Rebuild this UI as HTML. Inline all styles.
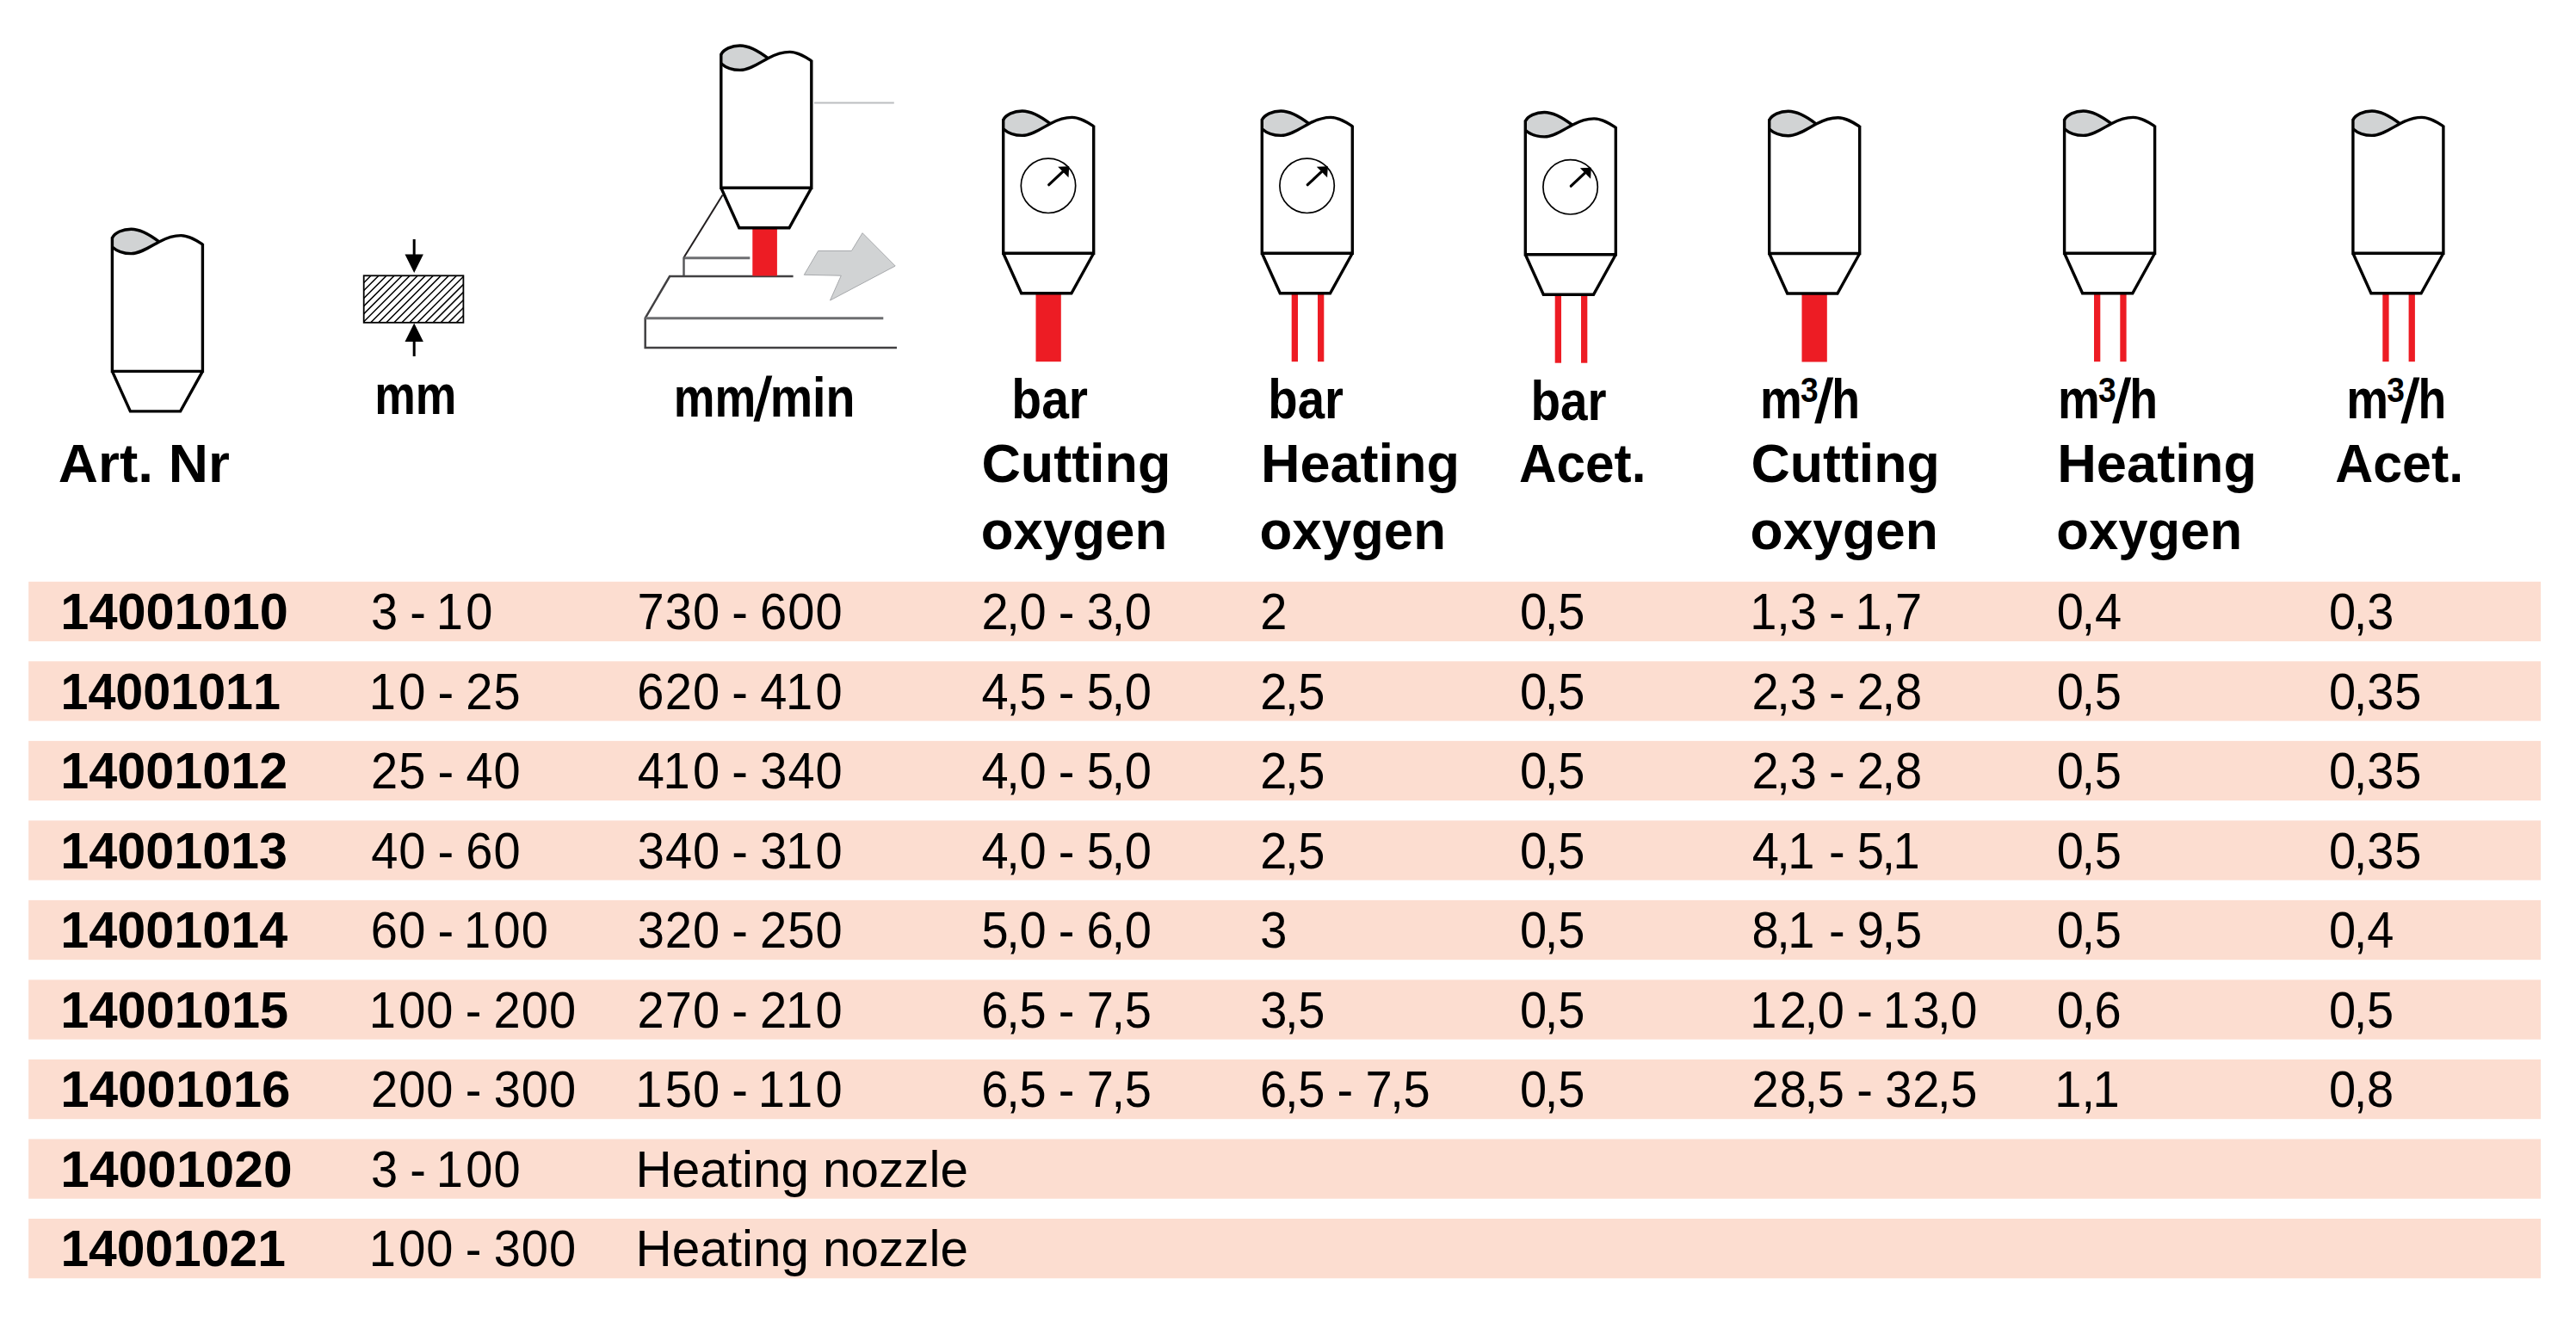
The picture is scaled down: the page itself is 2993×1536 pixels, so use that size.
<!DOCTYPE html>
<html><head><meta charset="utf-8">
<style>
html,body{margin:0;padding:0;background:#fff;width:2993px;height:1536px;overflow:hidden}
svg{display:block}
text{font-family:"Liberation Sans",sans-serif;font-kerning:none;fill:#000}
</style></head><body>
<svg width="2993" height="1536" viewBox="0 0 2993 1536">
<rect x="33.2" y="675.80" width="2918.90" height="69.3" fill="#FCDDD0"/>
<rect x="33.2" y="768.32" width="2918.90" height="69.3" fill="#FCDDD0"/>
<rect x="33.2" y="860.84" width="2918.90" height="69.3" fill="#FCDDD0"/>
<rect x="33.2" y="953.36" width="2918.90" height="69.3" fill="#FCDDD0"/>
<rect x="33.2" y="1045.88" width="2918.90" height="69.3" fill="#FCDDD0"/>
<rect x="33.2" y="1138.40" width="2918.90" height="69.3" fill="#FCDDD0"/>
<rect x="33.2" y="1230.92" width="2918.90" height="69.3" fill="#FCDDD0"/>
<rect x="33.2" y="1323.44" width="2918.90" height="69.3" fill="#FCDDD0"/>
<rect x="33.2" y="1415.96" width="2918.90" height="69.3" fill="#FCDDD0"/>
<g transform="translate(130.4,431.4)">
<path d="M0,-155 C3,-161 12,-165.2 22,-165.2 C34,-165.2 46,-157 54.5,-150.5 C45,-145.5 33,-136.8 22,-136.8 C12,-136.8 5,-140 0,-144.5 Z" fill="#D1D3D4"/>
<path d="M0,-155 C3,-161 12,-165.2 22,-165.2 C34,-165.2 46,-157 54.5,-150.5" stroke="#000" fill="none" stroke-width="3.4" stroke-linejoin="miter"/>
<path d="M0,-144.5 C5,-140 12,-136.8 22,-136.8 C33,-136.8 45,-145.5 54.5,-150.5 C63,-155 71,-157.8 79.8,-157.8 C89,-157.8 98,-152 105,-147.5" stroke="#000" fill="none" stroke-width="3.4" stroke-linejoin="miter"/>
<path d="M0,-156 V0 H105 V-148.5 M0,0 L21,46.5 H79.2 L105,0" stroke="#000" fill="none" stroke-width="3.4" stroke-linejoin="miter"/>
</g>
<g fill="none">
<path d="M945.9,119.5 H1038.8" stroke="#BCBEC0" stroke-width="2"/>
<path d="M839.6,226.5 L794.5,299.3" stroke="#231F20" stroke-width="2"/>
<path d="M794.5,299.8 H871.3" stroke="#6D6E71" stroke-width="3"/>
<path d="M794.5,299 V320.5" stroke="#58595B" stroke-width="2.5"/>
<path d="M921.6,321.1 H778.1 L749.7,369.5 V404 H1042" stroke="#414042" stroke-width="2.5" stroke-linejoin="miter"/>
<path d="M749.7,369.7 H1026.3" stroke="#6D6E71" stroke-width="3"/>
</g>
<path d="M934.3,319.3 L950.6,291.5 L989.4,291.5 L1002.1,270.7 L1040.2,309 L964.5,349 L977.3,320.2 Z" fill="#D1D3D4" stroke="#A7A9AC" stroke-width="1"/>
<rect x="874.3" y="264" width="28.6" height="56.5" fill="#ED1C24"/>
<g transform="translate(837.8,218.2)">
<path d="M0,-155 C3,-161 12,-165.2 22,-165.2 C34,-165.2 46,-157 54.5,-150.5 C45,-145.5 33,-136.8 22,-136.8 C12,-136.8 5,-140 0,-144.5 Z" fill="#D1D3D4"/>
<path d="M0,-155 C3,-161 12,-165.2 22,-165.2 C34,-165.2 46,-157 54.5,-150.5" stroke="#000" fill="none" stroke-width="3.4" stroke-linejoin="miter"/>
<path d="M0,-144.5 C5,-140 12,-136.8 22,-136.8 C33,-136.8 45,-145.5 54.5,-150.5 C63,-155 71,-157.8 79.8,-157.8 C89,-157.8 98,-152 105,-147.5" stroke="#000" fill="none" stroke-width="3.4" stroke-linejoin="miter"/>
<path d="M0,-156 V0 H105 V-148.5 M0,0 L21,46.5 H79.2 L105,0" stroke="#000" fill="none" stroke-width="3.4" stroke-linejoin="miter"/>
</g>
<g transform="translate(1165.7,294.2)">
<path d="M0,-155 C3,-161 12,-165.2 22,-165.2 C34,-165.2 46,-157 54.5,-150.5 C45,-145.5 33,-136.8 22,-136.8 C12,-136.8 5,-140 0,-144.5 Z" fill="#D1D3D4"/>
<rect x="37.8" y="46" width="29.3" height="80" fill="#ED1C24"/>
<path d="M0,-155 C3,-161 12,-165.2 22,-165.2 C34,-165.2 46,-157 54.5,-150.5" stroke="#000" fill="none" stroke-width="3.4" stroke-linejoin="miter"/>
<path d="M0,-144.5 C5,-140 12,-136.8 22,-136.8 C33,-136.8 45,-145.5 54.5,-150.5 C63,-155 71,-157.8 79.8,-157.8 C89,-157.8 98,-152 105,-147.5" stroke="#000" fill="none" stroke-width="3.4" stroke-linejoin="miter"/>
<path d="M0,-156 V0 H105 V-148.5 M0,0 L21,46.5 H79.2 L105,0" stroke="#000" fill="none" stroke-width="3.4" stroke-linejoin="miter"/>
<circle cx="52.3" cy="-78.4" r="31.7" stroke="#000" fill="none" stroke-width="1.7"/>
<path d="M53,-79.5 L69,-94.5" stroke="#000" stroke-width="3.2" stroke-linecap="round"/>
<path d="M63.5,-100.5 L76.5,-101 L75.8,-88 Z" fill="#000"/>
</g>
<g transform="translate(1466.3,294.2)">
<path d="M0,-155 C3,-161 12,-165.2 22,-165.2 C34,-165.2 46,-157 54.5,-150.5 C45,-145.5 33,-136.8 22,-136.8 C12,-136.8 5,-140 0,-144.5 Z" fill="#D1D3D4"/>
<rect x="34.4" y="46" width="7.3" height="80" fill="#ED1C24"/>
<rect x="64.7" y="46" width="7.3" height="80" fill="#ED1C24"/>
<path d="M0,-155 C3,-161 12,-165.2 22,-165.2 C34,-165.2 46,-157 54.5,-150.5" stroke="#000" fill="none" stroke-width="3.4" stroke-linejoin="miter"/>
<path d="M0,-144.5 C5,-140 12,-136.8 22,-136.8 C33,-136.8 45,-145.5 54.5,-150.5 C63,-155 71,-157.8 79.8,-157.8 C89,-157.8 98,-152 105,-147.5" stroke="#000" fill="none" stroke-width="3.4" stroke-linejoin="miter"/>
<path d="M0,-156 V0 H105 V-148.5 M0,0 L21,46.5 H79.2 L105,0" stroke="#000" fill="none" stroke-width="3.4" stroke-linejoin="miter"/>
<circle cx="52.3" cy="-78.4" r="31.7" stroke="#000" fill="none" stroke-width="1.7"/>
<path d="M53,-79.5 L69,-94.5" stroke="#000" stroke-width="3.2" stroke-linecap="round"/>
<path d="M63.5,-100.5 L76.5,-101 L75.8,-88 Z" fill="#000"/>
</g>
<g transform="translate(1772.3,295.7)">
<path d="M0,-155 C3,-161 12,-165.2 22,-165.2 C34,-165.2 46,-157 54.5,-150.5 C45,-145.5 33,-136.8 22,-136.8 C12,-136.8 5,-140 0,-144.5 Z" fill="#D1D3D4"/>
<rect x="34.4" y="46" width="7.3" height="80" fill="#ED1C24"/>
<rect x="64.7" y="46" width="7.3" height="80" fill="#ED1C24"/>
<path d="M0,-155 C3,-161 12,-165.2 22,-165.2 C34,-165.2 46,-157 54.5,-150.5" stroke="#000" fill="none" stroke-width="3.4" stroke-linejoin="miter"/>
<path d="M0,-144.5 C5,-140 12,-136.8 22,-136.8 C33,-136.8 45,-145.5 54.5,-150.5 C63,-155 71,-157.8 79.8,-157.8 C89,-157.8 98,-152 105,-147.5" stroke="#000" fill="none" stroke-width="3.4" stroke-linejoin="miter"/>
<path d="M0,-156 V0 H105 V-148.5 M0,0 L21,46.5 H79.2 L105,0" stroke="#000" fill="none" stroke-width="3.4" stroke-linejoin="miter"/>
<circle cx="52.3" cy="-78.4" r="31.7" stroke="#000" fill="none" stroke-width="1.7"/>
<path d="M53,-79.5 L69,-94.5" stroke="#000" stroke-width="3.2" stroke-linecap="round"/>
<path d="M63.5,-100.5 L76.5,-101 L75.8,-88 Z" fill="#000"/>
</g>
<g transform="translate(2055.7,294.5)">
<path d="M0,-155 C3,-161 12,-165.2 22,-165.2 C34,-165.2 46,-157 54.5,-150.5 C45,-145.5 33,-136.8 22,-136.8 C12,-136.8 5,-140 0,-144.5 Z" fill="#D1D3D4"/>
<rect x="37.8" y="46" width="29.3" height="80" fill="#ED1C24"/>
<path d="M0,-155 C3,-161 12,-165.2 22,-165.2 C34,-165.2 46,-157 54.5,-150.5" stroke="#000" fill="none" stroke-width="3.4" stroke-linejoin="miter"/>
<path d="M0,-144.5 C5,-140 12,-136.8 22,-136.8 C33,-136.8 45,-145.5 54.5,-150.5 C63,-155 71,-157.8 79.8,-157.8 C89,-157.8 98,-152 105,-147.5" stroke="#000" fill="none" stroke-width="3.4" stroke-linejoin="miter"/>
<path d="M0,-156 V0 H105 V-148.5 M0,0 L21,46.5 H79.2 L105,0" stroke="#000" fill="none" stroke-width="3.4" stroke-linejoin="miter"/>
</g>
<g transform="translate(2398.6,294.2)">
<path d="M0,-155 C3,-161 12,-165.2 22,-165.2 C34,-165.2 46,-157 54.5,-150.5 C45,-145.5 33,-136.8 22,-136.8 C12,-136.8 5,-140 0,-144.5 Z" fill="#D1D3D4"/>
<rect x="34.4" y="46" width="7.3" height="80" fill="#ED1C24"/>
<rect x="64.7" y="46" width="7.3" height="80" fill="#ED1C24"/>
<path d="M0,-155 C3,-161 12,-165.2 22,-165.2 C34,-165.2 46,-157 54.5,-150.5" stroke="#000" fill="none" stroke-width="3.4" stroke-linejoin="miter"/>
<path d="M0,-144.5 C5,-140 12,-136.8 22,-136.8 C33,-136.8 45,-145.5 54.5,-150.5 C63,-155 71,-157.8 79.8,-157.8 C89,-157.8 98,-152 105,-147.5" stroke="#000" fill="none" stroke-width="3.4" stroke-linejoin="miter"/>
<path d="M0,-156 V0 H105 V-148.5 M0,0 L21,46.5 H79.2 L105,0" stroke="#000" fill="none" stroke-width="3.4" stroke-linejoin="miter"/>
</g>
<g transform="translate(2733.9,294.2)">
<path d="M0,-155 C3,-161 12,-165.2 22,-165.2 C34,-165.2 46,-157 54.5,-150.5 C45,-145.5 33,-136.8 22,-136.8 C12,-136.8 5,-140 0,-144.5 Z" fill="#D1D3D4"/>
<rect x="34.4" y="46" width="7.3" height="80" fill="#ED1C24"/>
<rect x="64.7" y="46" width="7.3" height="80" fill="#ED1C24"/>
<path d="M0,-155 C3,-161 12,-165.2 22,-165.2 C34,-165.2 46,-157 54.5,-150.5" stroke="#000" fill="none" stroke-width="3.4" stroke-linejoin="miter"/>
<path d="M0,-144.5 C5,-140 12,-136.8 22,-136.8 C33,-136.8 45,-145.5 54.5,-150.5 C63,-155 71,-157.8 79.8,-157.8 C89,-157.8 98,-152 105,-147.5" stroke="#000" fill="none" stroke-width="3.4" stroke-linejoin="miter"/>
<path d="M0,-156 V0 H105 V-148.5 M0,0 L21,46.5 H79.2 L105,0" stroke="#000" fill="none" stroke-width="3.4" stroke-linejoin="miter"/>
</g>
<defs><clipPath id="hc"><rect x="422.7" y="320.3" width="115.7" height="54.5"/></clipPath></defs>
<path clip-path="url(#hc)" d="M283.90,376.8 L342.40,318.3 M292.95,376.8 L351.45,318.3 M302.00,376.8 L360.50,318.3 M311.05,376.8 L369.55,318.3 M320.10,376.8 L378.60,318.3 M329.15,376.8 L387.65,318.3 M338.20,376.8 L396.70,318.3 M347.25,376.8 L405.75,318.3 M356.30,376.8 L414.80,318.3 M365.35,376.8 L423.85,318.3 M374.40,376.8 L432.90,318.3 M383.45,376.8 L441.95,318.3 M392.50,376.8 L451.00,318.3 M401.55,376.8 L460.05,318.3 M410.60,376.8 L469.10,318.3 M419.65,376.8 L478.15,318.3 M428.70,376.8 L487.20,318.3 M437.75,376.8 L496.25,318.3 M446.80,376.8 L505.30,318.3 M455.85,376.8 L514.35,318.3 M464.90,376.8 L523.40,318.3 M473.95,376.8 L532.45,318.3 M483.00,376.8 L541.50,318.3 M492.05,376.8 L550.55,318.3 M501.10,376.8 L559.60,318.3 M510.15,376.8 L568.65,318.3 M519.20,376.8 L577.70,318.3 M528.25,376.8 L586.75,318.3 M537.30,376.8 L595.80,318.3 M546.35,376.8 L604.85,318.3" stroke="#000" stroke-width="1.5"/>
<rect x="422.7" y="320.3" width="115.7" height="54.5" fill="none" stroke="#000" stroke-width="1.8"/>
<path d="M481.2,278 V300 M481.2,396 V414" stroke="#000" stroke-width="3"/>
<path d="M470.5,295.4 L491.9,295.4 L481.2,317 Z M470.5,397 L491.9,397 L481.2,375.5 Z" fill="#000"/>
<path d="M890.5,436.6 L897.3,436.6 L882.3,489.7 L875.5,489.7 Z" fill="#000"/>
<path d="M2123.2,438.5 L2130.2,438.5 L2115.7,492 L2108.2,492 Z" fill="#000"/>
<path d="M2469.2,438.5 L2476.2,438.5 L2461.7,492 L2454.2,492 Z" fill="#000"/>
<path d="M2804.4,438.5 L2811.4,438.5 L2796.9,492 L2789.4,492 Z" fill="#000"/>
<text transform="scale(0.95,1)" x="453.82 494.05 501.39 528.37 533.52 569.86" y="731.00" font-size="59.0" font-weight="400">3 - 10</text>
<text transform="scale(0.95,1)" x="779.46 813.56 847.28 887.68 895.02 922.00 929.39 963.49 997.38" y="731.00" font-size="59.0" font-weight="400">730 - 600</text>
<text transform="scale(0.95,1)" x="1200.44 1230.75 1246.86 1287.26 1294.60 1321.58 1329.35 1359.49 1375.59" y="731.00" font-size="59.0" font-weight="400">2,0 - 3,0</text>
<text transform="scale(0.95,1)" x="1541.23" y="731.00" font-size="59.0" font-weight="400">2</text>
<text transform="scale(0.95,1)" x="1859.01 1889.33 1905.49" y="731.00" font-size="59.0" font-weight="400">0,5</text>
<text transform="scale(0.95,1)" x="2140.21 2172.96 2189.24 2229.47 2236.81 2263.79 2268.94 2301.70 2317.78" y="731.00" font-size="59.0" font-weight="400">1,3 - 1,7</text>
<text transform="scale(0.95,1)" x="2515.44 2545.75 2562.04" y="731.00" font-size="59.0" font-weight="400">0,4</text>
<text transform="scale(0.95,1)" x="2848.38 2878.70 2894.98" y="731.00" font-size="59.0" font-weight="400">0,3</text>
<text transform="scale(0.95,1)" x="451.21 487.54 527.95 535.28 562.26 569.86 603.81" y="823.52" font-size="59.0" font-weight="400">10 - 25</text>
<text transform="scale(0.95,1)" x="779.29 813.38 847.28 887.68 895.02 922.00 929.78 961.05 997.38" y="823.52" font-size="59.0" font-weight="400">620 - 410</text>
<text transform="scale(0.95,1)" x="1200.62 1230.75 1246.91 1287.26 1294.60 1321.58 1329.23 1359.49 1375.59" y="823.52" font-size="59.0" font-weight="400">4,5 - 5,0</text>
<text transform="scale(0.95,1)" x="1541.23 1571.54 1587.70" y="823.52" font-size="59.0" font-weight="400">2,5</text>
<text transform="scale(0.95,1)" x="1859.01 1889.33 1905.49" y="823.52" font-size="59.0" font-weight="400">0,5</text>
<text transform="scale(0.95,1)" x="2142.65 2172.96 2189.24 2229.47 2236.81 2263.79 2271.38 2301.70 2317.80" y="823.52" font-size="59.0" font-weight="400">2,3 - 2,8</text>
<text transform="scale(0.95,1)" x="2515.44 2545.75 2561.91" y="823.52" font-size="59.0" font-weight="400">0,5</text>
<text transform="scale(0.95,1)" x="2848.38 2878.70 2894.98 2928.76" y="823.52" font-size="59.0" font-weight="400">0,35</text>
<text transform="scale(0.95,1)" x="453.65 487.60 527.95 535.28 562.26 570.04 603.75" y="916.04" font-size="59.0" font-weight="400">25 - 40</text>
<text transform="scale(0.95,1)" x="779.68 810.94 847.28 887.68 895.02 922.00 929.77 963.68 997.38" y="916.04" font-size="59.0" font-weight="400">410 - 340</text>
<text transform="scale(0.95,1)" x="1200.62 1230.75 1246.86 1287.26 1294.60 1321.58 1329.23 1359.49 1375.59" y="916.04" font-size="59.0" font-weight="400">4,0 - 5,0</text>
<text transform="scale(0.95,1)" x="1541.23 1571.54 1587.70" y="916.04" font-size="59.0" font-weight="400">2,5</text>
<text transform="scale(0.95,1)" x="1859.01 1889.33 1905.49" y="916.04" font-size="59.0" font-weight="400">0,5</text>
<text transform="scale(0.95,1)" x="2142.65 2172.96 2189.24 2229.47 2236.81 2263.79 2271.38 2301.70 2317.80" y="916.04" font-size="59.0" font-weight="400">2,3 - 2,8</text>
<text transform="scale(0.95,1)" x="2515.44 2545.75 2561.91" y="916.04" font-size="59.0" font-weight="400">0,5</text>
<text transform="scale(0.95,1)" x="2848.38 2878.70 2894.98 2928.76" y="916.04" font-size="59.0" font-weight="400">0,35</text>
<text transform="scale(0.95,1)" x="453.83 487.54 527.95 535.28 562.26 569.66 603.75" y="1008.56" font-size="59.0" font-weight="400">40 - 60</text>
<text transform="scale(0.95,1)" x="779.66 813.57 847.28 887.68 895.02 922.00 929.77 961.05 997.38" y="1008.56" font-size="59.0" font-weight="400">340 - 310</text>
<text transform="scale(0.95,1)" x="1200.62 1230.75 1246.86 1287.26 1294.60 1321.58 1329.23 1359.49 1375.59" y="1008.56" font-size="59.0" font-weight="400">4,0 - 5,0</text>
<text transform="scale(0.95,1)" x="1541.23 1571.54 1587.70" y="1008.56" font-size="59.0" font-weight="400">2,5</text>
<text transform="scale(0.95,1)" x="1859.01 1889.33 1905.49" y="1008.56" font-size="59.0" font-weight="400">0,5</text>
<text transform="scale(0.95,1)" x="2142.83 2172.96 2186.63 2229.47 2236.81 2263.79 2271.44 2301.70 2315.37" y="1008.56" font-size="59.0" font-weight="400">4,1 - 5,1</text>
<text transform="scale(0.95,1)" x="2515.44 2545.75 2561.91" y="1008.56" font-size="59.0" font-weight="400">0,5</text>
<text transform="scale(0.95,1)" x="2848.38 2878.70 2894.98 2928.76" y="1008.56" font-size="59.0" font-weight="400">0,35</text>
<text transform="scale(0.95,1)" x="453.44 487.54 527.95 535.28 562.26 567.42 603.75 637.65" y="1101.08" font-size="59.0" font-weight="400">60 - 100</text>
<text transform="scale(0.95,1)" x="779.66 813.38 847.28 887.68 895.02 922.00 929.59 963.55 997.38" y="1101.08" font-size="59.0" font-weight="400">320 - 250</text>
<text transform="scale(0.95,1)" x="1200.49 1230.75 1246.86 1287.26 1294.60 1321.58 1328.97 1359.49 1375.59" y="1101.08" font-size="59.0" font-weight="400">5,0 - 6,0</text>
<text transform="scale(0.95,1)" x="1541.40" y="1101.08" font-size="59.0" font-weight="400">3</text>
<text transform="scale(0.95,1)" x="1859.01 1889.33 1905.49" y="1101.08" font-size="59.0" font-weight="400">0,5</text>
<text transform="scale(0.95,1)" x="2142.65 2172.96 2186.63 2229.47 2236.81 2263.79 2271.40 2301.70 2317.86" y="1101.08" font-size="59.0" font-weight="400">8,1 - 9,5</text>
<text transform="scale(0.95,1)" x="2515.44 2545.75 2561.91" y="1101.08" font-size="59.0" font-weight="400">0,5</text>
<text transform="scale(0.95,1)" x="2848.38 2878.70 2894.99" y="1101.08" font-size="59.0" font-weight="400">0,4</text>
<text transform="scale(0.95,1)" x="451.21 487.54 521.44 561.84 569.18 596.16 603.75 637.65 671.54" y="1193.60" font-size="59.0" font-weight="400">100 - 200</text>
<text transform="scale(0.95,1)" x="779.49 813.35 847.28 887.68 895.02 922.00 929.59 961.05 997.38" y="1193.60" font-size="59.0" font-weight="400">270 - 210</text>
<text transform="scale(0.95,1)" x="1200.23 1230.75 1246.91 1287.26 1294.60 1321.58 1329.14 1359.49 1375.65" y="1193.60" font-size="59.0" font-weight="400">6,5 - 7,5</text>
<text transform="scale(0.95,1)" x="1541.40 1571.54 1587.70" y="1193.60" font-size="59.0" font-weight="400">3,5</text>
<text transform="scale(0.95,1)" x="1859.01 1889.33 1905.49" y="1193.60" font-size="59.0" font-weight="400">0,5</text>
<text transform="scale(0.95,1)" x="2140.21 2176.54 2206.86 2222.96 2263.37 2270.70 2297.68 2302.84 2339.35 2369.49 2385.59" y="1193.60" font-size="59.0" font-weight="400">12,0 - 13,0</text>
<text transform="scale(0.95,1)" x="2515.44 2545.75 2561.66" y="1193.60" font-size="59.0" font-weight="400">0,6</text>
<text transform="scale(0.95,1)" x="2848.38 2878.70 2894.86" y="1193.60" font-size="59.0" font-weight="400">0,5</text>
<text transform="scale(0.95,1)" x="453.65 487.54 521.44 561.84 569.18 596.16 603.92 637.65 671.54" y="1286.12" font-size="59.0" font-weight="400">200 - 300</text>
<text transform="scale(0.95,1)" x="777.05 813.44 847.28 887.68 895.02 922.00 927.16 961.05 997.38" y="1286.12" font-size="59.0" font-weight="400">150 - 110</text>
<text transform="scale(0.95,1)" x="1200.23 1230.75 1246.91 1287.26 1294.60 1321.58 1329.14 1359.49 1375.65" y="1286.12" font-size="59.0" font-weight="400">6,5 - 7,5</text>
<text transform="scale(0.95,1)" x="1541.02 1571.54 1587.70 1628.05 1635.39 1662.37 1669.93 1700.28 1716.44" y="1286.12" font-size="59.0" font-weight="400">6,5 - 7,5</text>
<text transform="scale(0.95,1)" x="1859.01 1889.33 1905.49" y="1286.12" font-size="59.0" font-weight="400">0,5</text>
<text transform="scale(0.95,1)" x="2142.65 2176.54 2206.86 2223.02 2263.37 2270.70 2297.68 2305.45 2339.17 2369.49 2385.65" y="1286.12" font-size="59.0" font-weight="400">28,5 - 32,5</text>
<text transform="scale(0.95,1)" x="2513.00 2545.75 2559.42" y="1286.12" font-size="59.0" font-weight="400">1,1</text>
<text transform="scale(0.95,1)" x="2848.38 2878.70 2894.80" y="1286.12" font-size="59.0" font-weight="400">0,8</text>
<text transform="scale(0.95,1)" x="453.82 494.05 501.39 528.37 533.52 569.86 603.75" y="1378.64" font-size="59.0" font-weight="400">3 - 100</text>
<text transform="scale(0.95,1)" x="451.21 487.54 521.44 561.84 569.18 596.16 603.92 637.65 671.54" y="1471.16" font-size="59.0" font-weight="400">100 - 300</text>
<text x="67.81" y="560.40" font-size="63.4" font-weight="700" textLength="199.06" lengthAdjust="spacingAndGlyphs">Art. Nr</text>
<text x="1140.42" y="560.10" font-size="63.4" font-weight="700" textLength="219.99" lengthAdjust="spacingAndGlyphs">Cutting</text>
<text x="1139.79" y="637.90" font-size="63.4" font-weight="700" textLength="216.35" lengthAdjust="spacingAndGlyphs">oxygen</text>
<text x="1464.88" y="560.10" font-size="63.4" font-weight="700" textLength="231.13" lengthAdjust="spacingAndGlyphs">Heating</text>
<text x="1463.58" y="637.90" font-size="63.4" font-weight="700" textLength="216.45" lengthAdjust="spacingAndGlyphs">oxygen</text>
<text x="1765.00" y="560.10" font-size="63.4" font-weight="700" textLength="147.45" lengthAdjust="spacingAndGlyphs">Acet.</text>
<text x="2034.43" y="560.10" font-size="63.4" font-weight="700" textLength="219.37" lengthAdjust="spacingAndGlyphs">Cutting</text>
<text x="2033.57" y="637.90" font-size="63.4" font-weight="700" textLength="218.20" lengthAdjust="spacingAndGlyphs">oxygen</text>
<text x="2390.17" y="560.10" font-size="63.4" font-weight="700" textLength="231.96" lengthAdjust="spacingAndGlyphs">Heating</text>
<text x="2389.29" y="637.90" font-size="63.4" font-weight="700" textLength="215.93" lengthAdjust="spacingAndGlyphs">oxygen</text>
<text x="2713.28" y="560.10" font-size="63.4" font-weight="700" textLength="148.91" lengthAdjust="spacingAndGlyphs">Acet.</text>
<text x="435.17" y="480.70" font-size="65" font-weight="700" textLength="95.14" lengthAdjust="spacingAndGlyphs">mm</text>
<text x="782.86" y="483.90" font-size="65" font-weight="700" textLength="95.47" lengthAdjust="spacingAndGlyphs">mm</text>
<text x="894.64" y="483.90" font-size="65" font-weight="700" textLength="98.81" lengthAdjust="spacingAndGlyphs">min</text>
<text x="1175.34" y="486.00" font-size="65" font-weight="700" textLength="88.72" lengthAdjust="spacingAndGlyphs">bar</text>
<text x="1473.29" y="486.00" font-size="65" font-weight="700" textLength="87.67" lengthAdjust="spacingAndGlyphs">bar</text>
<text x="1778.47" y="488.30" font-size="65" font-weight="700" textLength="88.09" lengthAdjust="spacingAndGlyphs">bar</text>
<text x="2045.08" y="486.10" font-size="65" font-weight="700" textLength="48.82" lengthAdjust="spacingAndGlyphs">m</text>
<text x="2128.35" y="486.10" font-size="65" font-weight="700" textLength="32.77" lengthAdjust="spacingAndGlyphs">h</text>
<text x="2391.08" y="486.10" font-size="65" font-weight="700" textLength="48.82" lengthAdjust="spacingAndGlyphs">m</text>
<text x="2474.35" y="486.10" font-size="65" font-weight="700" textLength="32.77" lengthAdjust="spacingAndGlyphs">h</text>
<text x="2726.28" y="486.10" font-size="65" font-weight="700" textLength="48.82" lengthAdjust="spacingAndGlyphs">m</text>
<text x="2809.55" y="486.10" font-size="65" font-weight="700" textLength="32.77" lengthAdjust="spacingAndGlyphs">h</text>
<text x="70.36" y="731.00" font-size="59.0" font-weight="700" textLength="264.48" lengthAdjust="spacingAndGlyphs">14001010</text>
<text x="70.48" y="823.52" font-size="59.0" font-weight="700" textLength="255.52" lengthAdjust="spacingAndGlyphs">14001011</text>
<text x="70.36" y="916.04" font-size="59.0" font-weight="700" textLength="263.91" lengthAdjust="spacingAndGlyphs">14001012</text>
<text x="70.37" y="1008.56" font-size="59.0" font-weight="700" textLength="263.67" lengthAdjust="spacingAndGlyphs">14001013</text>
<text x="70.36" y="1101.08" font-size="59.0" font-weight="700" textLength="263.85" lengthAdjust="spacingAndGlyphs">14001014</text>
<text x="70.35" y="1193.60" font-size="59.0" font-weight="700" textLength="264.81" lengthAdjust="spacingAndGlyphs">14001015</text>
<text x="70.32" y="1286.12" font-size="59.0" font-weight="700" textLength="267.15" lengthAdjust="spacingAndGlyphs">14001016</text>
<text x="70.29" y="1378.64" font-size="59.0" font-weight="700" textLength="269.29" lengthAdjust="spacingAndGlyphs">14001020</text>
<text x="738.61" y="1378.64" font-size="59.0" font-weight="400" textLength="386.28" lengthAdjust="spacingAndGlyphs">Heating nozzle</text>
<text x="70.40" y="1471.16" font-size="59.0" font-weight="700" textLength="261.44" lengthAdjust="spacingAndGlyphs">14001021</text>
<text x="738.61" y="1471.16" font-size="59.0" font-weight="400" textLength="386.28" lengthAdjust="spacingAndGlyphs">Heating nozzle</text>
<text transform="scale(0.9233,1)" x="2265.72" y="467.45" font-size="40.31" font-weight="700">3</text>
<text transform="scale(0.9233,1)" x="2640.48" y="467.45" font-size="40.31" font-weight="700">3</text>
<text transform="scale(0.9233,1)" x="3003.54" y="467.45" font-size="40.31" font-weight="700">3</text>
</svg>
</body></html>
